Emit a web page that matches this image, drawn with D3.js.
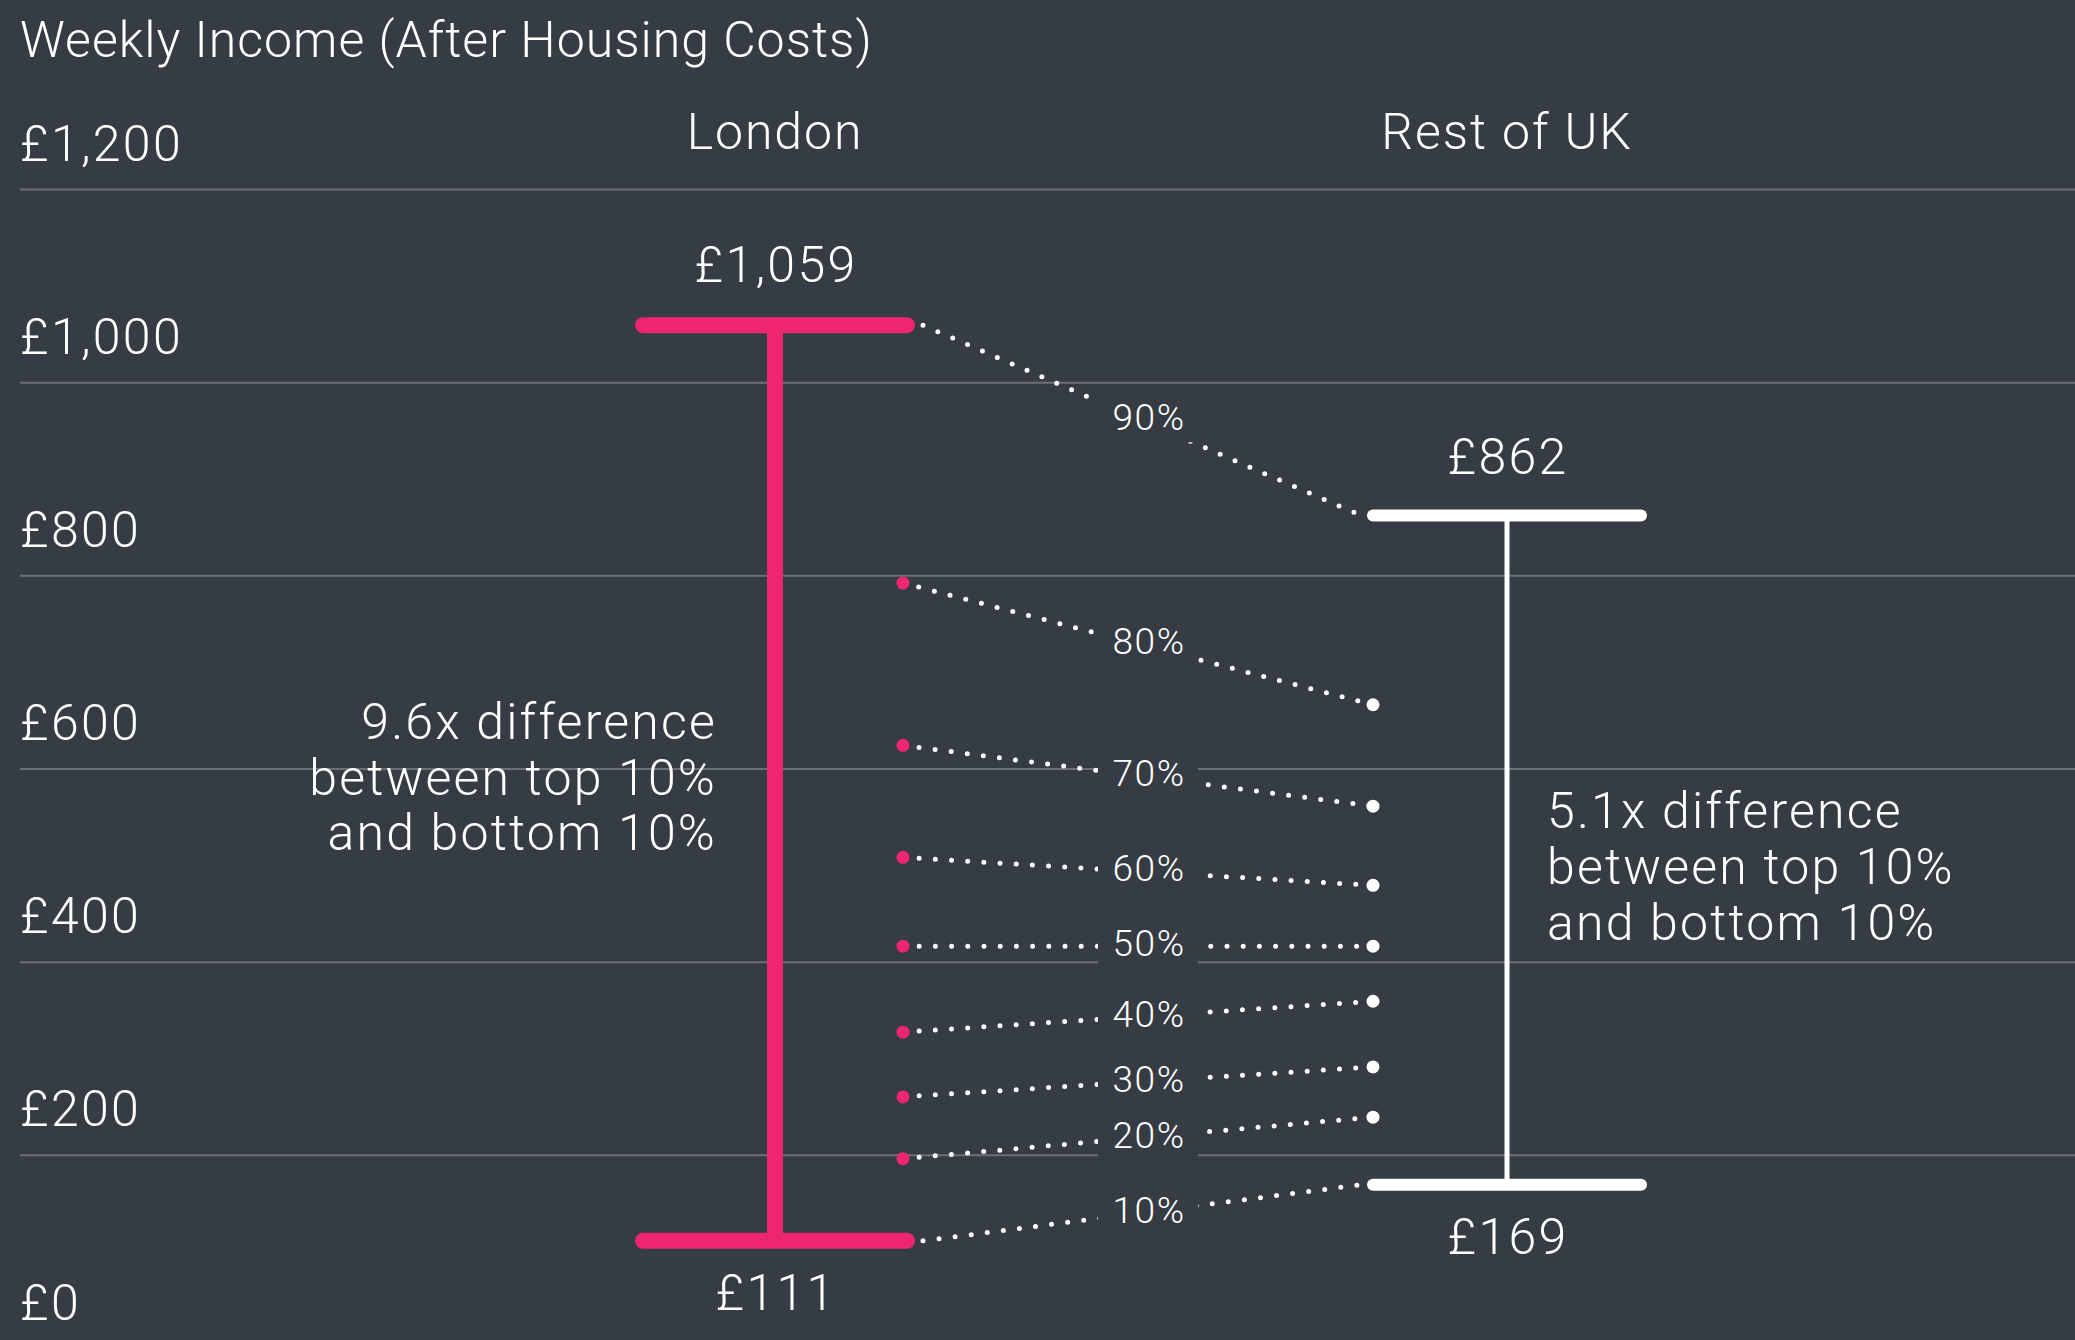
<!DOCTYPE html>
<html>
<head>
<meta charset="utf-8">
<script src="https://cdn.jsdelivr.net/npm/d3@7"></script>
<style>
	body { margin: 0; background: #363c43; }
	svg { display: block; }
	text { font-family: Roboto, "Liberation Sans", sans-serif; font-weight: 300; fill: #ffffff; }
	.grid line { stroke: #6b7073; stroke-width: 2; }
	.grid .domain { display: none; }
</style>
</head>
<body>
<div id="chart"></div>
<script>

// values (weekly income after housing costs, by decile)
const regions = ['London', 'Rest of UK'];
const deciles = ['10%', '20%', '30%', '40%', '50%', '60%', '70%', '80%', '90%'];
const londonValues = [111, 196, 260, 327, 416, 508, 624, 792, 1059];
const ukValues = [169, 239, 291, 359, 416, 479, 561, 666, 862];
const yTicks = [0, 200, 400, 600, 800, 1000, 1200];
const titleText = 'Weekly Income (After Housing Costs)';
const londonNote = ['9.6x difference', 'between top 10%', 'and bottom 10%'];
const ukNote = ['5.1x difference', 'between top 10%', 'and bottom 10%'];

const width = 2075;
const height = 1340;
const bg = '#363c43';
const pink = '#ee2670';
const white = '#ffffff';

const money = v => '£' + d3.format(',')(v);

const svg = d3.select('#chart').append('svg')
	.attr('width', width)
	.attr('height', height);

// scales
const yScale = d3.scaleLinear()
	.domain([0, 1200])
	.range([1348, 189]);

const xScale = d3.scalePoint()
	.domain(regions)
	.range([775, 1507]);

const xL = xScale('London');
const xU = xScale('Rest of UK');
const halfBar = 140;

// gridlines + tick labels
const yAxis = d3.axisRight(yScale)
	.tickValues(yTicks)
	.tickSize(width - 20)
	.tickFormat(money);

const gridGroup = svg.append('g')
	.attr('class', 'grid')
	.attr('transform', 'translate(20, 0)')
	.call(yAxis);

gridGroup.selectAll('.tick text')
	.attr('x', 0)
	.attr('dy', -29)
	.attr('text-anchor', 'start')
	.style('font-family', 'Roboto, "Liberation Sans", sans-serif')
	.style('font-size', '50px')
	.style('letter-spacing', '2.3px')
	.attr('fill', white);

// title
svg.append('text')
	.attr('x', 20)
	.attr('y', 57)
	.style('font-size', '50px')
	.style('letter-spacing', '1px')
	.text(titleText);

// region names
svg.selectAll('.region-label')
	.data(regions)
	.join('text')
	.attr('class', 'region-label')
	.attr('x', d => xScale(d))
	.attr('y', 149)
	.attr('text-anchor', 'middle')
	.style('font-size', '50px')
	.style('letter-spacing', '1.9px')
	.text(d => d);

// decile connectors
const pairs = deciles.map((d, i) => ({
	label: d,
	london: londonValues[i],
	uk: ukValues[i],
	end: i === 0 || i === deciles.length - 1
}));

const linkX0 = d => d.end ? xL + halfBar + 8 : xL + 128;
const linkX1 = d => d.end ? xU - halfBar - 6 : xU - 134;

svg.append('g')
	.selectAll('line')
	.data(pairs)
	.join('line')
	.attr('x1', linkX0)
	.attr('x2', linkX1)
	.attr('y1', d => yScale(d.london))
	.attr('y2', d => yScale(d.uk))
	.attr('stroke', white)
	.attr('stroke-width', 5)
	.attr('stroke-linecap', 'round')
	.attr('stroke-dasharray', '0,16.2');

// decile labels sit on a background patch that hides the lines behind them
const labelX = (xL + xU) / 2 + 7;
const labelY = d => (yScale(d.london) + yScale(d.uk)) / 2 - 3;

const labelGroup = svg.append('g');

labelGroup.selectAll('rect')
	.data(pairs)
	.join('rect')
	.attr('x', labelX - 50)
	.attr('y', d => labelY(d) - 25)
	.attr('width', 100)
	.attr('height', 50)
	.attr('fill', bg);

labelGroup.selectAll('text')
	.data(pairs)
	.join('text')
	.attr('x', labelX + 1)
	.attr('y', d => labelY(d) + 13)
	.attr('text-anchor', 'middle')
	.style('font-size', '37px')
	.style('letter-spacing', '1.6px')
	.attr('fill', '#eeeeee')
	.text(d => d.label);

// London range
const lTop = londonValues[londonValues.length - 1];
const lBot = londonValues[0];
const uTop = ukValues[ukValues.length - 1];
const uBot = ukValues[0];

svg.append('line')
	.attr('x1', xL).attr('x2', xL)
	.attr('y1', yScale(lTop)).attr('y2', yScale(lBot))
	.attr('stroke', pink)
	.attr('stroke-width', 16);

svg.append('line')
	.attr('x1', xU).attr('x2', xU)
	.attr('y1', yScale(uTop)).attr('y2', yScale(uBot))
	.attr('stroke', white)
	.attr('stroke-width', 5);

const caps = [
	{ x: xL, v: lTop, color: pink, w: 16 },
	{ x: xL, v: lBot, color: pink, w: 16 },
	{ x: xU, v: uTop, color: white, w: 12 },
	{ x: xU, v: uBot, color: white, w: 12 }
];

svg.append('g')
	.selectAll('line')
	.data(caps)
	.join('line')
	.attr('x1', d => d.x - halfBar + d.w / 2)
	.attr('x2', d => d.x + halfBar - d.w / 2)
	.attr('y1', d => yScale(d.v))
	.attr('y2', d => yScale(d.v))
	.attr('stroke', d => d.color)
	.attr('stroke-width', d => d.w)
	.attr('stroke-linecap', 'round');

// decile end dots (not for 10% / 90%, they sit on the bars)
const inner = pairs.filter(d => !d.end);

svg.append('g')
	.selectAll('circle')
	.data(inner)
	.join('circle')
	.attr('cx', xL + 128)
	.attr('cy', d => yScale(d.london))
	.attr('r', 6.5)
	.attr('fill', pink);

svg.append('g')
	.selectAll('circle')
	.data(inner)
	.join('circle')
	.attr('cx', xU - 134)
	.attr('cy', d => yScale(d.uk))
	.attr('r', 6.5)
	.attr('fill', white);

// value labels at the ends of each range
const valueLabels = [
	{ x: xL, v: lTop, dy: -43 },
	{ x: xL, v: lBot, dy: 69 },
	{ x: xU, v: uTop, dy: -41 },
	{ x: xU, v: uBot, dy: 69 }
];

svg.selectAll('.value-label')
	.data(valueLabels)
	.join('text')
	.attr('class', 'value-label')
	.attr('x', d => d.x + 1)
	.attr('y', d => yScale(d.v) + d.dy)
	.attr('text-anchor', 'middle')
	.style('font-size', '50px')
	.style('letter-spacing', '2.3px')
	.text(d => money(d.v));

// annotations
svg.append('text')
	.attr('text-anchor', 'end')
	.style('font-size', '50px')
	.style('letter-spacing', '2.2px')
	.selectAll('tspan')
	.data(londonNote)
	.join('tspan')
	.attr('x', 717)
	.attr('y', (d, i) => 739 + i * 55.5)
	.text(d => d);

svg.append('text')
	.attr('text-anchor', 'start')
	.style('font-size', '50px')
	.style('letter-spacing', '2.2px')
	.selectAll('tspan')
	.data(ukNote)
	.join('tspan')
	.attr('x', 1547)
	.attr('y', (d, i) => 828 + i * 56)
	.text(d => d);

</script>
</body>
</html>
